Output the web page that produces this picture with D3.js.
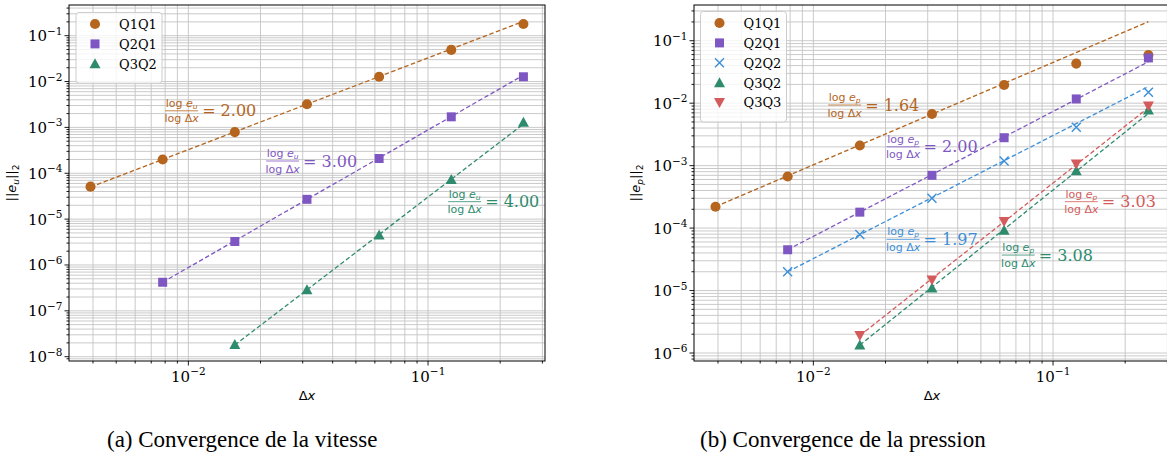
<!DOCTYPE html>
<html>
<head>
<meta charset="utf-8">
<script src="https://cdn.jsdelivr.net/npm/d3@7"></script>
<style>
  body { margin: 0; background: #fff; }
  svg { display: block; }
</style>
</head>
<body>
<div id="chart"></div>
<script>
const width = 1167;
const height = 464;

// mesh sizes
const dx = [1/256, 1/128, 1/64, 1/32, 1/16, 1/8, 1/4];

// (a) vitesse
const uNames = ["Q1Q1", "Q2Q1", "Q3Q2"];
const uQ1Q1 = [5.1e-5, 2.0e-4, 7.9e-4, 3.2e-3, 1.27e-2, 4.9e-2, 0.18];
const uQ2Q1 = [null, 4.2e-7, 3.25e-6, 2.7e-5, 2.1e-4, 1.7e-3, 1.27e-2];
const uQ3Q2 = [null, null, 1.85e-8, 2.9e-7, 4.5e-6, 7.3e-5, 1.3e-3];
const uSlopes = [2.00, 3.00, 4.00];
const uFitStart = [5.0e-5, 4.2e-7, 1.8e-8];
const uLabelAt = [[0.0080, 2.3e-3], [0.0211, 1.85e-4], [0.1213, 2.4e-5]];

// (b) pression
const pNames = ["Q1Q1", "Q2Q1", "Q2Q2", "Q3Q2", "Q3Q3"];
const pQ1Q1 = [2.2e-4, 6.7e-4, 2.1e-3, 6.7e-3, 1.96e-2, 4.3e-2, 5.9e-2];
const pQ2Q1 = [null, 4.5e-5, 1.8e-4, 7.0e-4, 2.8e-3, 1.17e-2, 5.3e-2];
const pQ2Q2 = [null, 2.0e-5, 7.9e-5, 3.0e-4, 1.19e-3, 4.1e-3, 1.5e-2];
const pQ3Q2 = [null, null, 1.34e-6, 1.1e-5, 9.2e-5, 8.3e-4, 7.8e-3];
const pQ3Q3 = [null, null, 1.9e-6, 1.48e-5, 1.28e-4, 1.06e-3, 9.0e-3];
const pSlopes = [1.64, 2.00, 1.97, 3.08, 3.03];
const pFitStart = [2.2e-4, 4.5e-5, 2.0e-5, 1.34e-6, 1.9e-6];
const pLabelAt = [[0.01153, 9.35e-3], [0.0202, 2.0e-3], [0.0202, 6.6e-5], [0.0611, 3.7e-5], [0.112, 2.65e-4]];

const colors = {
	Q1Q1: "#b5651d",
	Q2Q1: "#7e57c2",
	Q2Q2: "#3b8ed8",
	Q3Q2: "#2e8b6e",
	Q3Q3: "#d45b5b"
};
const markers = {
	Q1Q1: "circle",
	Q2Q1: "square",
	Q2Q2: "times",
	Q3Q2: "up",
	Q3Q3: "down"
};

const serif = "'DejaVu Serif', 'Liberation Serif', serif";
const sans = "'DejaVu Sans', 'Liberation Sans', sans-serif";

const xLim = [Math.pow(10, -2.498), Math.pow(10, -0.512)];

const svg = d3.select("#chart")
	.append("svg")
	.attr("width", width)
	.attr("height", height);

const markerPath = function(kind) {
	if (kind === "circle") return d3.symbol(d3.symbolCircle, 80)();
	if (kind === "square") return "M-4.5,-4.5H4.5V4.5H-4.5Z";
	if (kind === "times") return "M-4.5,-4.5L4.5,4.5M-4.5,4.5L4.5,-4.5";
	if (kind === "up") return "M0,-5.5L5.5,4.5L-5.5,4.5Z";
	return "M0,5.5L5.5,-4.5L-5.5,-4.5Z";
};

const drawMarker = function(sel, name) {
	const kind = markers[name];
	if (kind === "times") {
		sel.attr("d", markerPath(kind))
			.attr("fill", "none")
			.attr("stroke", colors[name])
			.attr("stroke-width", 1.4);
	} else {
		sel.attr("d", markerPath(kind))
			.attr("fill", colors[name]);
	}
};

const powerLabel = function(sel, e) {
	sel.append("tspan").text("10");
	sel.append("tspan")
		.attr("dy", -6.5)
		.attr("font-size", 10.5)
		.text("\u2212" + (-e));
};

const drawPanel = function(o) {
	const g = svg.append("g").attr("transform", `translate(${o.left},${o.top})`);
	const x = d3.scaleLog().domain(xLim).range([0, o.w]);
	const y = d3.scaleLog().domain(o.yLim).range([o.h, 0]);

	const clipId = "clip" + o.id;
	g.append("clipPath").attr("id", clipId)
		.append("rect").attr("width", o.w).attr("height", o.h);

	// all ticks (1..9 per decade)
	const logTicks = function(lim) {
		const out = [];
		const lo = Math.floor(Math.log10(lim[0]));
		const hi = Math.ceil(Math.log10(lim[1]));
		for (let e = lo; e <= hi; e++) {
			for (let k = 1; k <= 9; k++) {
				const v = k * Math.pow(10, e);
				if (v >= lim[0] && v <= lim[1]) out.push({v: v, major: k === 1, e: e});
			}
		}
		return out;
	};
	const xt = logTicks(xLim);
	const yt = logTicks(o.yLim);

	const grid = g.append("g").attr("stroke", "#c4c4c4").attr("stroke-width", 0.9);
	grid.selectAll("line.gx").data(xt).enter().append("line")
		.attr("x1", d => x(d.v)).attr("x2", d => x(d.v))
		.attr("y1", 0).attr("y2", o.h);
	grid.selectAll("line.gy").data(yt).enter().append("line")
		.attr("y1", d => y(d.v)).attr("y2", d => y(d.v))
		.attr("x1", 0).attr("x2", o.w);

	const plot = g.append("g").attr("clip-path", `url(#${clipId})`);

	// fitted lines
	o.series.forEach((s, i) => {
		const idx = s.values.findIndex(v => v !== null);
		const x0 = dx[idx];
		const x1 = dx[dx.length - 1];
		const y0 = o.fitStart[i];
		const y1 = y0 * Math.pow(x1 / x0, o.slopes[i]);
		plot.append("path")
			.attr("d", d3.line()([[x(x0), y(y0)], [x(x1), y(y1)]]))
			.attr("fill", "none")
			.attr("stroke", colors[s.name])
			.attr("stroke-width", 1.3)
			.attr("stroke-dasharray", "4.5,2.5");
	});

	// points
	o.series.forEach(s => {
		const pts = dx.map((d, i) => ({x: d, y: s.values[i]})).filter(p => p.y !== null);
		plot.selectAll(null).data(pts).enter().append("path")
			.attr("transform", p => `translate(${x(p.x)},${y(p.y)})`)
			.call(drawMarker, s.name);
	});

	// spines
	g.append("rect")
		.attr("width", o.w).attr("height", o.h)
		.attr("fill", "none").attr("stroke", "#000").attr("stroke-width", 1);

	// ticks
	const ticks = g.append("g").attr("stroke", "#000").attr("stroke-width", 0.9);
	ticks.selectAll("line.tx").data(xt).enter().append("line")
		.attr("x1", d => x(d.v)).attr("x2", d => x(d.v))
		.attr("y1", o.h).attr("y2", d => o.h + (d.major ? 4.5 : 2.5));
	ticks.selectAll("line.ty").data(yt).enter().append("line")
		.attr("y1", d => y(d.v)).attr("y2", d => y(d.v))
		.attr("x1", 0).attr("x2", d => d.major ? -4.5 : -2.5);

	xt.filter(d => d.major).forEach(d => {
		g.append("text")
			.attr("x", x(d.v)).attr("y", o.h + 20.5)
			.attr("text-anchor", "middle")
			.style("font-family", serif).attr("font-size", 15)
			.call(powerLabel, d.e);
	});
	yt.filter(d => d.major).forEach(d => {
		g.append("text")
			.attr("x", -6.5).attr("y", y(d.v) + 5.5)
			.attr("text-anchor", "end")
			.style("font-family", serif).attr("font-size", 15)
			.call(powerLabel, d.e);
	});

	// axis labels
	const xl = g.append("text")
		.attr("x", o.w / 2).attr("y", o.h + 39)
		.attr("text-anchor", "middle")
		.style("font-family", sans).attr("font-size", 13);
	xl.append("tspan").text("\u0394");
	xl.append("tspan").attr("font-style", "italic").text("x");

	const yl = g.append("text")
		.attr("transform", `translate(${o.yLabelX},${o.h / 2}) rotate(-90)`)
		.attr("text-anchor", "middle")
		.style("font-family", sans).attr("font-size", 13);
	yl.append("tspan").text("||");
	yl.append("tspan").attr("font-style", "italic").text("e");
	yl.append("tspan").attr("font-size", 9).attr("dy", 3).attr("font-style", "italic").text(o.sub);
	yl.append("tspan").attr("dy", -3).text("||");
	yl.append("tspan").attr("font-size", 9).attr("dy", 3).text("2");

	// slope annotations
	o.series.forEach((s, i) => {
		const c = colors[s.name];
		const a = g.append("g")
			.attr("transform", `translate(${x(o.labelAt[i][0])},${y(o.labelAt[i][1])})`)
			.attr("fill", c);
		const num = a.append("text")
			.attr("x", 16.5).attr("y", -4)
			.attr("text-anchor", "middle")
			.style("font-family", sans).attr("font-size", 11);
		num.append("tspan").text("log ");
		num.append("tspan").attr("font-style", "italic").text("e");
		num.append("tspan").attr("font-style", "italic").attr("font-size", 7.5).attr("dy", 2).text(o.sub);
		a.append("line")
			.attr("x1", 0).attr("x2", 33).attr("y1", 0).attr("y2", 0)
			.attr("stroke", c).attr("stroke-width", 0.8);
		const den = a.append("text")
			.attr("x", 16.5).attr("y", 11.5)
			.attr("text-anchor", "middle")
			.style("font-family", sans).attr("font-size", 11);
		den.append("tspan").text("log \u0394");
		den.append("tspan").attr("font-style", "italic").text("x");
		a.append("text")
			.attr("x", 37).attr("y", 5.5)
			.style("font-family", serif).attr("font-size", 16)
			.text("= " + o.slopes[i].toFixed(2));
	});

	// legend
	const lg = g.append("g").attr("transform", `translate(${o.legend[0]},${o.legend[1]})`);
	lg.append("rect")
		.attr("width", 86).attr("height", 11 + o.series.length * 19.9)
		.attr("rx", 3)
		.attr("fill", "#fff").attr("fill-opacity", 0.8)
		.attr("stroke", "#cccccc").attr("stroke-width", 1);
	o.series.forEach((s, i) => {
		const row = lg.append("g").attr("transform", `translate(0,${11.5 + i * 19.9})`);
		row.append("path")
			.attr("transform", "translate(19,0)")
			.call(drawMarker, s.name);
		row.append("text")
			.attr("x", 43).attr("y", 4.8)
			.style("font-family", serif).attr("font-size", 13)
			.text(s.name);
	});

	// caption
	svg.append("text")
		.attr("x", o.captionX).attr("y", 447)
		.style("font-family", "'Liberation Serif', serif").attr("font-size", 23)
		.text(o.caption);
};

drawPanel({
	id: "a",
	left: 69, top: 5, w: 476, h: 356,
	yLim: [Math.pow(10, -8.094), Math.pow(10, -0.331)],
	series: [
		{name: uNames[0], values: uQ1Q1},
		{name: uNames[1], values: uQ2Q1},
		{name: uNames[2], values: uQ3Q2}
	],
	slopes: uSlopes,
	fitStart: uFitStart,
	labelAt: uLabelAt,
	sub: "u",
	yLabelX: -53,
	legend: [7, 7.5],
	caption: "(a) Convergence de la vitesse",
	captionX: 107
});

drawPanel({
	id: "b",
	left: 694, top: 5, w: 476, h: 356,
	yLim: [Math.pow(10, -6.128), Math.pow(10, -0.428)],
	series: [
		{name: pNames[0], values: pQ1Q1},
		{name: pNames[1], values: pQ2Q1},
		{name: pNames[2], values: pQ2Q2},
		{name: pNames[3], values: pQ3Q2},
		{name: pNames[4], values: pQ3Q3}
	],
	slopes: pSlopes,
	fitStart: pFitStart,
	labelAt: pLabelAt,
	sub: "p",
	yLabelX: -54,
	legend: [6.5, 6.5],
	caption: "(b) Convergence de la pression",
	captionX: 700
});
</script>
</body>
</html>
